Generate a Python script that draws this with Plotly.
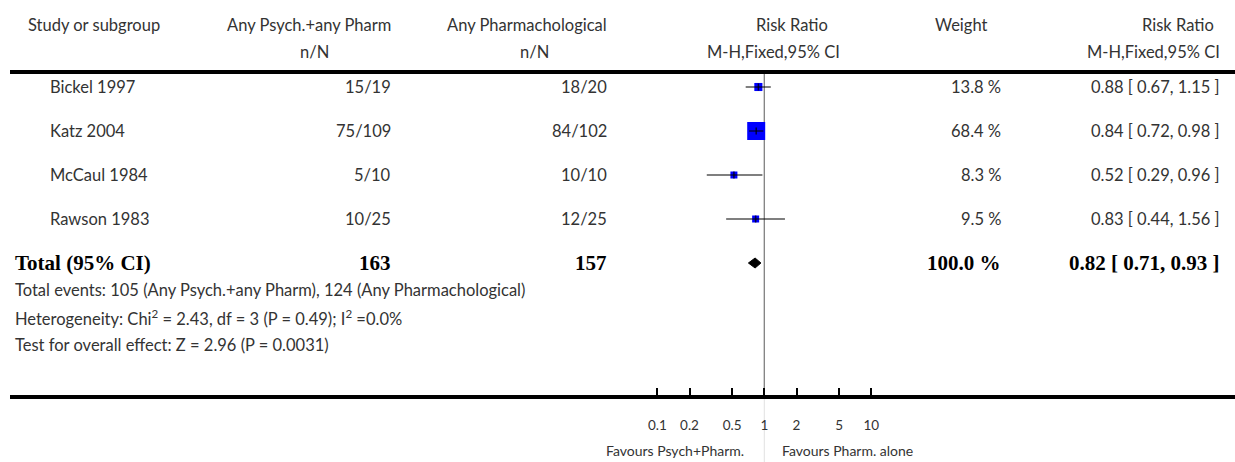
import plotly.graph_objects as go
import math

# ---------------- data ----------------
studies = ["Bickel 1997", "Katz 2004", "McCaul 1984", "Rawson 1983"]
psych_events = [15, 75, 5, 10]
psych_total = [19, 109, 10, 25]
pharm_events = [18, 84, 10, 12]
pharm_total = [20, 102, 10, 25]
weights = [13.8, 68.4, 8.3, 9.5]
rr = [0.88, 0.84, 0.52, 0.83]
rr_lo = [0.67, 0.72, 0.29, 0.44]
rr_hi = [1.15, 0.98, 0.96, 1.56]

total_label = "Total (95% CI)"
total_psych_N = 163
total_pharm_N = 157
total_weight = 100.0
total_rr = 0.82
total_lo = 0.71
total_hi = 0.93
total_events_psych = 105
total_events_pharm = 124
het_chi2 = 2.43
het_df = 3
het_p = 0.49
het_i2 = 0.0
z_value = 2.96
z_p = 0.0031

tick_vals = [0.1, 0.2, 0.5, 1, 2, 5, 10]
tick_text = ["0.1", "0.2", "0.5", "1", "2", "5", "10"]
favours_left = "Favours Psych+Pharm."
favours_right = "Favours Pharm. alone"

# ---------------- geometry ----------------
W, H = 1235, 462
ROW0, ROWSTEP = 87, 44          # pixel y of first study row, row spacing
def py(px):                      # pixel y -> y-axis units (row index)
    return (px - ROW0) / ROWSTEP
def pxx(px):                     # pixel x -> paper fraction
    return px / W

X_LEFT = 10
X_ONE = 764.3
DECADE = 107.0
r0 = (X_LEFT - X_ONE) / DECADE
r1 = (W - X_ONE) / DECADE

SANS = "Lato, 'Open Sans', sans-serif"
SERIF = "'Liberation Serif', 'DejaVu Serif', serif"
TXT = "#333333"
FS = 16.5

fig = go.Figure()

# reference line at RR = 1
fig.add_trace(go.Scatter(x=[1, 1], y=[py(72), py(397)], mode="lines",
                         line=dict(color="#808080", width=1.3), hoverinfo="skip"))
fig.add_trace(go.Scatter(x=[1, 1], y=[py(397), py(462)], mode="lines",
                         line=dict(color="#e2e2e2", width=1), hoverinfo="skip"))

rows = list(range(len(studies)))
sizes = [max(7, 18 * math.sqrt(w / max(weights))) for w in weights]

# squares
fig.add_trace(go.Scatter(x=rr, y=rows, mode="markers", opacity=1,
                         marker=dict(symbol="square", size=sizes, color="#0000ff",
                                     opacity=1, line=dict(width=0)), hoverinfo="skip"))
# CI lines (semi-transparent black, over squares)
for i in rows:
    fig.add_trace(go.Scatter(x=[rr_lo[i], rr_hi[i]], y=[i, i], mode="lines",
                             line=dict(color="rgba(0,0,0,0.5)", width=2), hoverinfo="skip"))
# small centre ticks
fig.add_trace(go.Scatter(x=rr, y=rows, mode="markers",
                         marker=dict(symbol="line-ns", size=5, opacity=1,
                                     line=dict(color="rgba(0,0,0,0.75)", width=1.5)),
                         hoverinfo="skip"))

# diamond for total
trow = len(studies)
dh = 5 / ROWSTEP
fig.add_trace(go.Scatter(x=[total_lo, total_rr, total_hi, total_rr, total_lo],
                         y=[trow, trow - dh, trow, trow + dh, trow],
                         mode="lines", fill="toself", fillcolor="black",
                         line=dict(color="black", width=1), hoverinfo="skip"))

annotations = []
def ann(text, x, y, xanchor="left", font=SANS, size=FS, color=TXT, yref_px=True):
    annotations.append(dict(text=text, x=pxx(x), xref="paper",
                            y=py(y) if yref_px else y, yref="y",
                            xanchor=xanchor, yanchor="middle", showarrow=False,
                            font=dict(family=font, size=size, color=color)))

# headers
ann("Study or subgroup", 26, 25)
ann("Any Psych.+any Pharm", 393, 25, "right")
ann("n/N", 314, 52, "center")
ann("Any Pharmachological", 609, 25, "right")
ann("n/N", 534, 52, "center")
ann("Risk Ratio", 792, 25, "center")
ann("M-H,Fixed,95% CI", 773, 52, "center")
ann("Weight", 961, 25, "center")
ann("Risk Ratio", 1216, 25, "right")
ann("M-H,Fixed,95% CI", 1222, 52, "right")

# study rows
for i in rows:
    ann(studies[i], 48, i, yref_px=False)
    ann(f"{psych_events[i]}/{psych_total[i]}", 393, i, "right", yref_px=False)
    ann(f"{pharm_events[i]}/{pharm_total[i]}", 609, i, "right", yref_px=False)
    ann(f"{weights[i]:.1f} %", 1003, i, "right", yref_px=False)
    ann(f"{rr[i]:.2f} [ {rr_lo[i]:.2f}, {rr_hi[i]:.2f} ]", 1222, i, "right", yref_px=False)

# total row
BS = 21
ann(f"<b>{total_label}</b>", 13, trow, font=SERIF, size=BS, color="black", yref_px=False)
ann(f"<b>{total_psych_N}</b>", 393, trow, "right", font=SERIF, size=BS, color="black", yref_px=False)
ann(f"<b>{total_pharm_N}</b>", 609, trow, "right", font=SERIF, size=BS, color="black", yref_px=False)
ann(f"<b>{total_weight:.1f} %</b>", 1003, trow, "right", font=SERIF, size=BS, color="black", yref_px=False)
ann(f"<b>{total_rr:.2f} [ {total_lo:.2f}, {total_hi:.2f} ]</b>", 1222, trow, "right",
    font=SERIF, size=BS, color="black", yref_px=False)

# footnotes
ann(f"Total events: {total_events_psych} (Any Psych.+any Pharm), {total_events_pharm} (Any Pharmachological)", 13, 290)
ann(f"Heterogeneity: Chi<sup>2</sup> = {het_chi2:.2f}, df = {het_df} (P = {het_p:.2f}); I<sup>2</sup> ={het_i2:.1f}%", 13, 318)
ann(f"Test for overall effect: Z = {z_value:.2f} (P = {z_p})", 13, 345)

# favours labels
ann(favours_left, 746, 450, "right", size=14)
ann(favours_right, 780, 450, "left", size=14)

shapes = [
    dict(type="line", xref="paper", yref="y", x0=pxx(X_LEFT), x1=1,
         y0=py(72), y1=py(72), line=dict(color="black", width=4)),
]

fig.update_layout(
    width=W, height=H, autosize=False,
    margin=dict(l=0, r=0, t=0, b=0),
    paper_bgcolor="white", plot_bgcolor="white",
    showlegend=False,
    annotations=annotations, shapes=shapes,
    xaxis=dict(type="log", range=[r0, r1], domain=[X_LEFT / W, 1],
               anchor="free", position=(H - 397) / H,
               showgrid=False, zeroline=False,
               showline=True, linecolor="black", linewidth=3.5,
               tickmode="array", tickvals=tick_vals, ticktext=tick_text,
               ticks="inside", ticklen=7, tickwidth=2, tickcolor="black",
               ticklabelstandoff=15,
               tickfont=dict(family=SANS, size=13.5, color=TXT),
               fixedrange=True),
    yaxis=dict(range=[py(H), py(0)], domain=[0, 1], visible=False,
               showgrid=False, zeroline=False, fixedrange=True),
)

fig.write_html("out.html")
